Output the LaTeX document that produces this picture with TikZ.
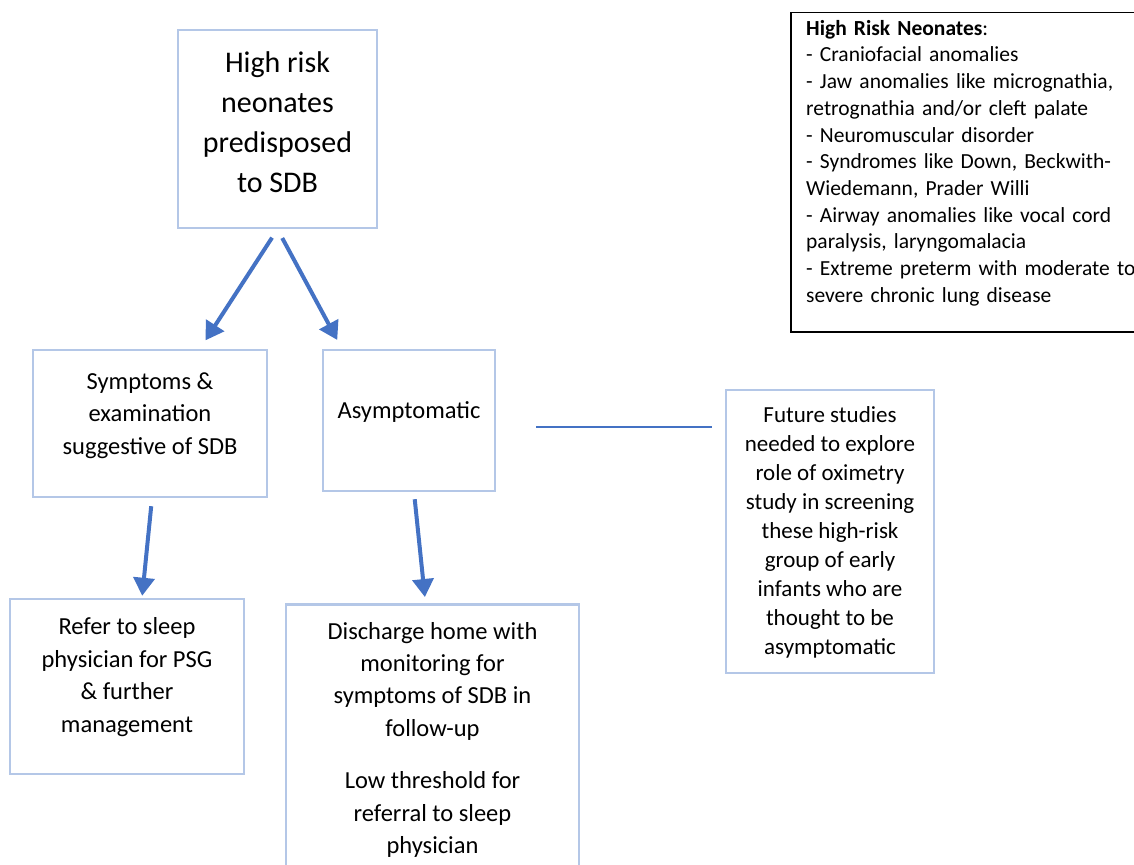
\documentclass[tikz,border=0pt]{standalone}
\usepackage{fontspec}
\setmainfont{Carlito}
\usepackage{xcolor}
\usetikzlibrary{positioning, arrows.meta}
\definecolor{boxblue}{RGB}{180,199,231}
\definecolor{arrowblue}{RGB}{68,114,196}

\begin{document}
\begin{tikzpicture}[x=1pt, y=-1pt,
  frame/.style={draw=boxblue, line width=2.5pt, inner sep=0pt},
  txt/.style={inner sep=0pt, align=center, font=\fontsize{24.5}{32.5}\selectfont},
  flow/.style={draw=arrowblue, line width=4pt, -{Triangle[width=21pt,length=18pt]}},
  link/.style={draw=arrowblue, line width=1.3pt}]
\useasboundingbox (0,0) rectangle (1134,864);

% boxes
\node[frame, minimum width=199pt, minimum height=198pt] (top) at (277.5,129) {};
\node[txt, font=\fontsize{30}{40}\selectfont, below=22.5pt of top.north] (toptext) {High risk\\ neonates\\ predisposed\\ to SDB};

\node[frame, minimum width=234pt, minimum height=147pt] (sym) at (150,423.5) {};
\node[txt, below=23.5pt of sym.north] (symtext) {Symptoms \&\\ examination\\ suggestive of SDB};

\node[frame, minimum width=172pt, minimum height=141pt] (asym) at (409,420.5) {};
\node[txt, below=52.5pt of asym.north] (asymtext) {Asymptomatic};

\node[frame, minimum width=234pt, minimum height=175pt] (refer) at (127,686.5) {};
\node[txt, below=20pt of refer.north] (refertext) {Refer to sleep\\ physician for PSG\\ \& further\\ management};

\node[frame, minimum width=293pt, minimum height=290pt, anchor=north] (home) at (432.5,603) {};
\node[txt, font=\fontsize{24.5}{32.3}\selectfont, below=19pt of home.north] (hometext) {Discharge home with\\ monitoring for\\ symptoms of SDB in\\ follow-up\\[20.5pt] Low threshold for\\ referral to sleep\\ physician};

\node[frame, minimum width=208pt, minimum height=283pt] (future) at (830,531.5) {};
\node[txt, font=\fontsize{23}{29}\selectfont, below=18pt of future.north] (futuretext) {Future studies\\ needed to explore\\ role of oximetry\\ study in screening\\ these high-risk\\ group of early\\ infants who are\\ thought to be\\ asymptomatic};

% legend
\node[draw, line width=1.5pt, minimum width=370pt, minimum height=319pt, anchor=north west, inner sep=0pt] (risk) at (790,12) {};
\node[inner sep=0pt, text width=330pt, align=left, font=\fontsize{21.5}{26.7}\selectfont, below right=8pt and 16pt of risk.north west] (risktext) {\textbf{High Risk Neonates}:\\
- Craniofacial anomalies\\
\makebox[324pt][s]{- Jaw anomalies like micrognathia,}\\
retrognathia and/or cleft palate\\
- Neuromuscular disorder\\
\makebox[324pt][s]{- Syndromes like Down, Beckwith-}\\
Wiedemann, Prader Willi\\
\makebox[324pt][s]{- Airway anomalies like vocal cord}\\
paralysis, laryngomalacia\\
\makebox[324pt][s]{- Extreme preterm with moderate to}\\
severe chronic lung disease};

% connectors
\draw[flow, shorten <=10pt, shorten >=10pt] (top.south) -- ([xshift=50pt]sym.north);
\draw[flow, shorten <=10pt, shorten >=10pt] (top.south) -- ([xshift=-67pt]asym.north);
\draw[flow, shorten <=8pt, shorten >=2pt] ([xshift=2pt]sym.south) -- ([xshift=15pt]refer.north);
\draw[flow, shorten <=7pt, shorten >=6pt] ([xshift=5pt]asym.south) -- ([xshift=-7pt]home.north);
\draw[link, shorten <=40pt, shorten >=13pt] ([yshift=-6.5pt]asym.east) -- ([yshift=-6.5pt]asym.east -| future.west);
\end{tikzpicture}
\end{document}
